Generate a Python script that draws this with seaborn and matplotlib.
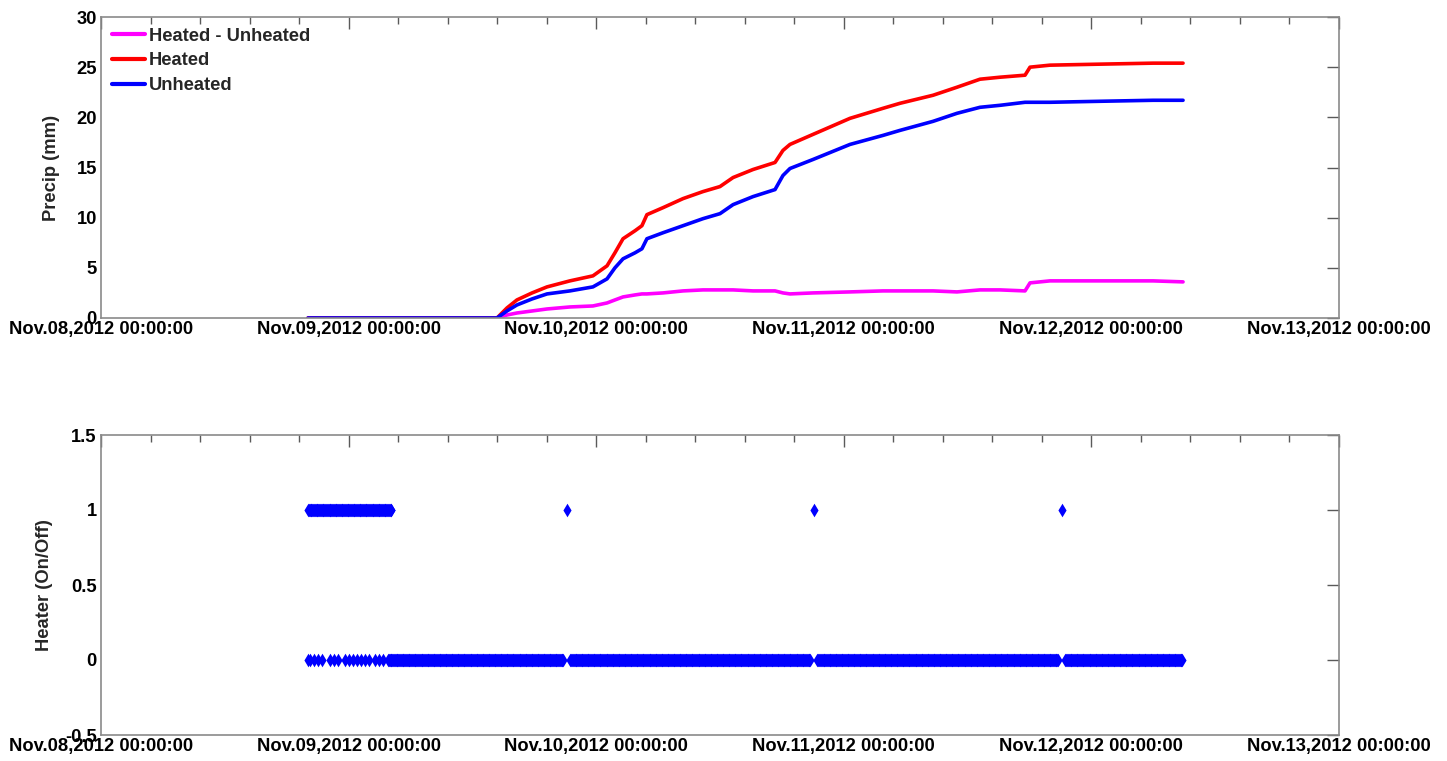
import numpy as np
import pandas as pd
import matplotlib
matplotlib.use("Agg")
import matplotlib.pyplot as plt
import matplotlib.dates as mdates
from matplotlib.ticker import MultipleLocator, AutoMinorLocator, FuncFormatter
import seaborn as sns

# ---------------- data ----------------
precip_times = [
    "2012-11-08 20:04", "2012-11-09 14:23", "2012-11-09 15:21", "2012-11-09 16:19",
    "2012-11-09 17:47", "2012-11-09 19:14", "2012-11-09 21:27", "2012-11-09 23:41",
    "2012-11-10 01:03", "2012-11-10 01:49", "2012-11-10 02:36", "2012-11-10 03:46",
    "2012-11-10 04:26", "2012-11-10 04:55", "2012-11-10 06:29", "2012-11-10 08:25",
    "2012-11-10 10:21", "2012-11-10 12:00", "2012-11-10 13:16", "2012-11-10 15:12",
    "2012-11-10 17:20", "2012-11-10 18:06", "2012-11-10 18:47", "2012-11-10 21:01",
    "2012-11-11 00:36", "2012-11-11 03:48", "2012-11-11 05:27", "2012-11-11 08:39",
    "2012-11-11 10:58", "2012-11-11 13:12", "2012-11-11 15:09", "2012-11-11 17:34",
    "2012-11-11 18:03", "2012-11-11 19:59", "2012-11-12 00:50", "2012-11-12 05:59",
    "2012-11-12 08:53",
]
heated_mm = [
    0.0, 0.0, 1.0, 1.8, 2.5, 3.1, 3.7, 4.2,
    5.2, 6.5, 7.9, 8.7, 9.2, 10.3, 11.0, 11.9,
    12.6, 13.1, 14.0, 14.8, 15.5, 16.7, 17.3, 18.3,
    19.9, 20.9, 21.4, 22.2, 23.0, 23.8, 24.0, 24.2,
    25.0, 25.2, 25.3, 25.4, 25.4,
]
unheated_mm = [
    0.0, 0.0, 0.7, 1.3, 1.9, 2.4, 2.7, 3.1,
    3.9, 5.0, 5.9, 6.5, 6.9, 7.9, 8.5, 9.2,
    9.9, 10.4, 11.3, 12.1, 12.8, 14.2, 14.9, 15.8,
    17.3, 18.2, 18.7, 19.6, 20.4, 21.0, 21.2, 21.5,
    21.5, 21.5, 21.6, 21.7, 21.7,
]
diff_mm = [
    0.0, 0.0, 0.3, 0.5, 0.7, 0.9, 1.1, 1.2,
    1.5, 1.8, 2.1, 2.3, 2.4, 2.4, 2.5, 2.7,
    2.8, 2.8, 2.8, 2.7, 2.7, 2.5, 2.4, 2.5,
    2.6, 2.7, 2.7, 2.7, 2.6, 2.8, 2.8, 2.7,
    3.5, 3.7, 3.7, 3.7, 3.6,
]
series_names = ["Heated - Unheated", "Heated", "Unheated"]
series_colors = ["#ff00ff", "#ff0000", "#0000ff"]

# heater state (logger step function)
heater_log_step = "5min"
heater_on_segments = [("2012-11-08 20:04", "2012-11-09 04:12")]
heater_on_single = ["2012-11-09 21:10", "2012-11-10 21:07", "2012-11-11 21:09"]
heater_off_single = [
    "2012-11-08 20:06", "2012-11-08 20:15", "2012-11-08 20:39", "2012-11-08 21:02",
    "2012-11-08 21:25", "2012-11-08 22:12", "2012-11-08 22:35", "2012-11-08 22:58",
    "2012-11-08 23:39", "2012-11-09 00:02", "2012-11-09 00:26", "2012-11-09 00:49",
    "2012-11-09 01:12", "2012-11-09 01:35", "2012-11-09 01:59", "2012-11-09 02:34",
    "2012-11-09 02:57", "2012-11-09 03:20",
]
heater_off_segments = [
    ("2012-11-09 03:49", "2012-11-09 20:50"),
    ("2012-11-09 21:30", "2012-11-10 20:47"),
    ("2012-11-10 21:27", "2012-11-11 20:49"),
    ("2012-11-11 21:29", "2012-11-12 08:53"),
]

# ---------------- tables ----------------
precip_df = pd.concat([
    pd.DataFrame({"time": pd.to_datetime(precip_times), "value": vals, "series": name})
    for name, vals in zip(series_names, [diff_mm, heated_mm, unheated_mm])
], ignore_index=True)

on_t = [pd.date_range(a, b, freq=heater_log_step) for a, b in heater_on_segments]
on_t = list(np.concatenate([t.values for t in on_t])) + list(pd.to_datetime(heater_on_single).values)
off_t = [pd.date_range(a, b, freq=heater_log_step) for a, b in heater_off_segments]
off_t = list(pd.to_datetime(heater_off_single).values) + list(np.concatenate([t.values for t in off_t]))
heater_df = pd.DataFrame({
    "time": pd.to_datetime(on_t + off_t),
    "state": [1] * len(on_t) + [0] * len(off_t),
})

# ---------------- style ----------------
sns.set_theme(style="white")
plt.rcParams["font.family"] = ["Liberation Sans", "DejaVu Sans"]
plt.rcParams["font.weight"] = "bold"
plt.rcParams["axes.labelweight"] = "bold"
FS = 13.2

W, H = 1447, 761
fig = plt.figure(figsize=(W / 100, H / 100), dpi=100)
ax1 = fig.add_axes([101 / W, 1 - 318 / H, 1238 / W, 301 / H])
ax2 = fig.add_axes([101 / W, 1 - 735 / H, 1238 / W, 300 / H])

sns.lineplot(data=precip_df, x="time", y="value", hue="series",
             hue_order=series_names, palette=series_colors,
             linewidth=2.6, ax=ax1, estimator=None, sort=False)
sns.scatterplot(data=heater_df, x="time", y="state", marker="d", s=48,
                color="#0000ff", linewidth=0, ax=ax2, legend=False)


def style(ax):
    for s in ax.spines.values():
        s.set_color("#8a8a8a")
        s.set_linewidth(1.2)
    ax.set_xlim(pd.Timestamp("2012-11-08"), pd.Timestamp("2012-11-13"))
    ax.xaxis.set_major_locator(mdates.DayLocator())
    ax.xaxis.set_major_formatter(mdates.DateFormatter("%b.%d,%Y %H:%M:%S"))
    ax.xaxis.set_minor_locator(AutoMinorLocator(5))
    ax.yaxis.set_major_formatter(FuncFormatter(lambda v, p: f"{v:g}"))
    ax.tick_params(which="both", direction="in", top=True, right=True,
                   color="#5a5a5a", labelcolor="black", labelsize=FS, width=1.0)
    ax.tick_params(which="major", length=8.6)
    ax.tick_params(which="minor", length=5)
    ax.tick_params(axis="x", pad=2)
    ax.tick_params(axis="y", pad=3)
    ax.set_xlabel("")
    ax.grid(False)


style(ax1)
style(ax2)

ax1.set_ylim(0, 30)
ax1.yaxis.set_major_locator(MultipleLocator(5))
ax1.set_ylabel("Precip (mm)", fontsize=FS, fontweight="bold")
ax1.yaxis.set_label_coords(-0.033, 0.5)

ax2.set_ylim(-0.5, 1.5)
ax2.yaxis.set_major_locator(MultipleLocator(0.5))
ax2.set_ylabel("Heater (On/Off)", fontsize=FS, fontweight="bold")
ax2.yaxis.set_label_coords(-0.039, 0.5)

old = ax1.get_legend()
handles = old.legend_handles
labels = [t.get_text() for t in old.get_texts()]
old.remove()
for h in handles:
    h.set_linewidth(3.0)
ax1.legend(handles, labels, loc="upper left", bbox_to_anchor=(0.009, 0.965),
           frameon=False, fontsize=FS, handlelength=1.8, handletextpad=0.2,
           labelspacing=0.42, borderpad=0, borderaxespad=0)

fig.savefig("out.png", dpi=100)
